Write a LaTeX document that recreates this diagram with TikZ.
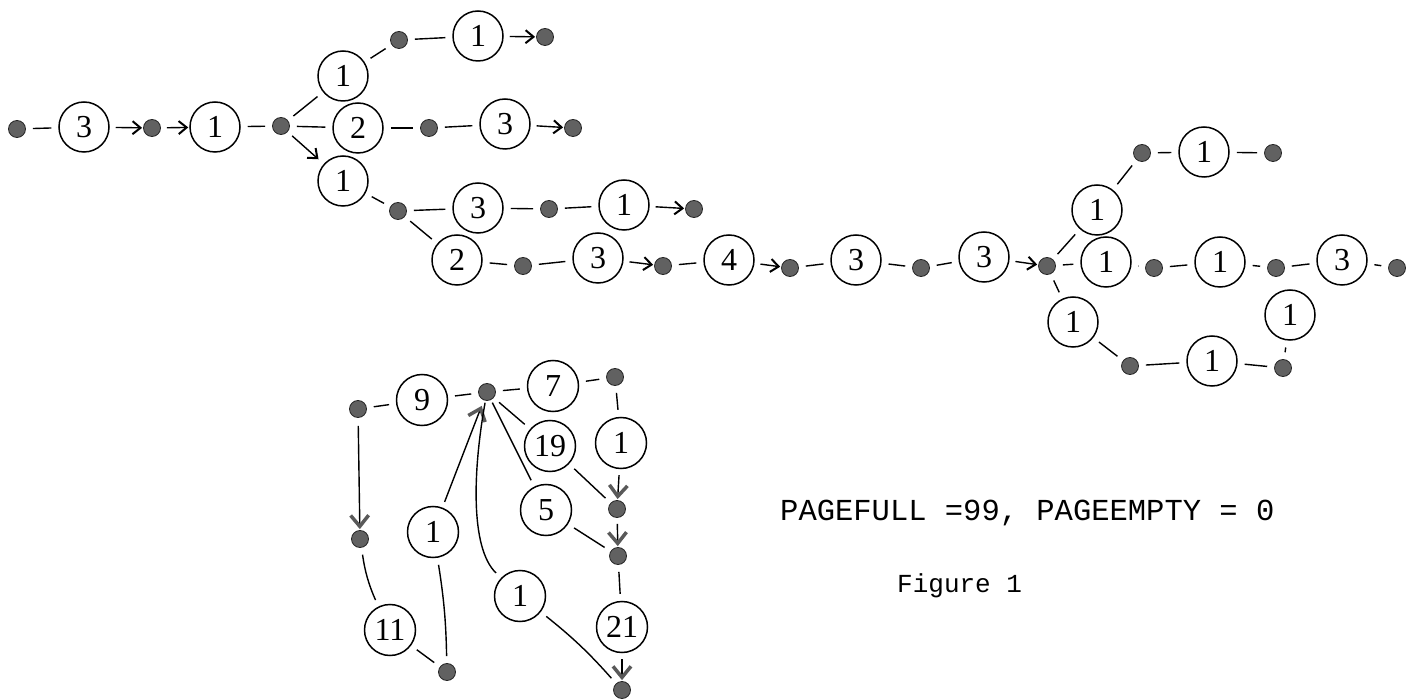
\documentclass[tikz,border=0pt]{standalone}
\usepackage{fontspec}
\setmainfont{Liberation Serif}
\newfontfamily\twfont{Liberation Mono}
\usetikzlibrary{arrows.meta}
\begin{document}
\begin{tikzpicture}[x=1pt,y=-1pt,
 circ/.style={circle,draw,line width=1.5pt,minimum size=50pt,inner sep=0pt,font=\fontsize{32}{32}\selectfont},
 bcirc/.style={circ,minimum size=51pt},
 dot/.style={circle,fill=black!62,draw=black!85,line width=0.8pt,minimum size=17pt,inner sep=0pt},
 ln/.style={line width=1.4pt,shorten >=7pt,shorten <=7pt},
 ar/.style={line width=1.4pt,shorten <=6pt,shorten >=1pt,-{Straight Barb[length=8pt,width=13pt,line width=2pt]}},
 bar/.style={line width=1.4pt,shorten <=6pt,shorten >=1pt,-{Straight Barb[length=11pt,width=18pt,line width=3.5pt,color=black!65]}},
 tw/.style={font=\twfont\fontsize{30.5}{30.5}\selectfont,inner sep=0pt,anchor=base west},
]
\useasboundingbox (0,0) rectangle (1419,700);
% ---------- top graph ----------
\node[dot] (d1) at (17,129) {};
\node[circ] (c3a) at (84,127) {3};
\node[dot] (d2) at (152,128) {};
\node[circ] (c1a) at (215,127) {1};
\node[dot] (d3) at (281,126) {};
\node[circ] (c1b) at (343,76) {1};
\node[dot] (d4) at (399,40) {};
\node[circ] (c1c) at (478,36) {1};
\node[dot] (d5) at (545,37) {};
\node[circ] (c2a) at (358,128) {2};
\node[dot] (d6) at (429,128) {};
\node[circ] (c3b) at (505,124) {3};
\node[dot] (d7) at (573,128) {};
\node[circ] (c1d) at (343,181) {1};
\node[dot] (d8) at (398,211) {};
\node[circ] (c3c) at (478,208) {3};
\node[dot] (d9) at (549,209) {};
\node[circ] (c1e) at (624,205) {1};
\node[dot] (d10) at (694,209) {};
\node[circ] (c2b) at (457,260) {2};
\node[dot] (d11) at (523,266) {};
\node[circ] (c3d) at (598,258) {3};
\node[dot] (d12) at (663,266) {};
\node[circ] (c4) at (729,260) {4};
\node[dot] (d13) at (790,268) {};
\node[circ] (c3e) at (856,260) {3};
\node[dot] (d14) at (921,268) {};
\node[circ] (c3f) at (984,257) {3};
\node[dot] (hub) at (1047,266) {};
\node[circ] (c1f) at (1097,210) {1};
\node[dot] (d15) at (1142,153) {};
\node[circ] (c1g) at (1204,152) {1};
\node[dot] (d16) at (1273,153) {};
\node[circ] (c1h) at (1106,262) {1};
\node[dot] (d17) at (1154,268) {};
\node[circ] (c1i) at (1220,262) {1};
\node[dot] (d18) at (1276,268) {};
\node[circ] (c3g) at (1342,260) {3};
\node[dot] (d19) at (1397,268) {};
\node[circ] (c1j) at (1073,322) {1};
\node[dot] (d20) at (1130,366) {};
\node[circ] (c1k) at (1212,361) {1};
\node[dot] (d21) at (1283,368) {};
\node[circ] (c1l) at (1290,315) {1};

\draw[ln] (d1) -- (c3a);
\draw[ar] (c3a) -- (d2);
\draw[ar] (d2) -- (c1a);
\draw[ln] (c1a) -- (d3);
\draw[ln] (d3) -- (c1b);
\draw[ln] (c1b) -- (d4);
\draw[ln] (d4) -- (c1c);
\draw[ar] (c1c) -- (d5);
\draw[ln] (d3) -- (c2a);
\draw[ln] (c2a) -- (d6);
\draw[ln] (d6) -- (c3b);
\draw[ar] (c3b) -- (d7);
\draw[ar,shorten >=7pt] (d3) -- (c1d);
\draw[ln] (c1d) -- (d8);
\draw[ln] (d8) -- (c3c);
\draw[ln] (c3c) -- (d9);
\draw[ln] (d9) -- (c1e);
\draw[ar] (c1e) -- (d10);
\draw[ln] (d8) -- (c2b);
\draw[ln] (c2b) -- (d11);
\draw[ln] (d11) -- (c3d);
\draw[ar] (c3d) -- (d12);
\draw[ln] (d12) -- (c4);
\draw[ar] (c4) -- (d13);
\draw[ln] (d13) -- (c3e);
\draw[ln] (c3e) -- (d14);
\draw[ln] (d14) -- (c3f);
\draw[ar] (c3f) -- (hub);
\draw[ln] (hub) -- (c1f);
\draw[ln] (c1f) -- (d15);
\draw[ln] (d15) -- (c1g);
\draw[ln] (c1g) -- (d16);
\draw[ln] (hub) -- (c1h);
\draw[ln] (c1h) -- (d17);
\draw[ln] (d17) -- (c1i);
\draw[ln] (c1i) -- (d18);
\draw[ln] (d18) -- (c3g);
\draw[ln] (c3g) -- (d19);
\draw[ln] (hub) -- (c1j);
\draw[ln] (c1j) -- (d20);
\draw[ln] (d20) -- (c1k);
\draw[ln] (c1k) -- (d21);
\draw[ln] (d21) -- (c1l);

% ---------- bottom graph ----------
\node[dot] (bL1) at (358,409) {};
\node[bcirc] (b9) at (422,400) {9};
\node[dot] (bH) at (487,392) {};
\node[bcirc] (b7) at (553,386) {7};
\node[dot] (bR1) at (615,377) {};
\node[bcirc] (b1R) at (621,443) {1};
\node[bcirc] (b19) at (550,446) {19};
\node[dot] (bR2) at (617,509) {};
\node[bcirc] (b5) at (546,510) {5};
\node[dot] (bR3) at (618,556) {};
\node[bcirc] (b21) at (622,627) {21};
\node[dot] (bR4) at (622,690) {};
\node[dot] (bL2) at (360,539) {};
\node[bcirc] (b1L) at (433,532) {1};
\node[bcirc] (b1M) at (520,596) {1};
\node[bcirc] (b11) at (390,630) {11};
\node[dot] (bB) at (447,672) {};

\draw[ln] (bL1) -- (b9);
\draw[ln] (b9) -- (bH);
\draw[ln] (bH) -- (b7);
\draw[ln] (b7) -- (bR1);
\draw[ln] (bR1) -- (b1R);
\draw[bar] (b1R) -- (bR2);
\draw[ln] (bH) -- (b19);
\draw[ln] (b19) -- (bR2);
\draw[bar] (bR2) -- (bR3);
\draw[ln,shorten <=3pt] (bH) -- (b5);
\draw[ln] (b5) -- (bR3);
\draw[ln] (bR3) -- (b21);
\draw[bar] (b21) -- (bR4);
\draw[bar,shorten <=8pt] (bL1) -- (bL2);
\draw[ln] (bL2) to[bend right=8] (b11);
\draw[ln] (b11) -- (bB);
\draw[bar,shorten >=6pt] (b1L) -- (bH);
\draw[ln] (b1L) to[bend left=4] (bB);
\draw[ln,shorten <=2pt] (bH) .. controls (473,470) and (470,548) .. (b1M);
\draw[ln] (b1M) to[bend left=5] (bR4);

% ---------- texts ----------
\node[tw] (t1) at (780,520) {PAGEFULL =99, PAGEEMPTY = 0};
\node[tw,font=\twfont\fontsize{26}{26}\selectfont] (t2) at (897,592) {Figure 1};
\end{tikzpicture}
\end{document}
